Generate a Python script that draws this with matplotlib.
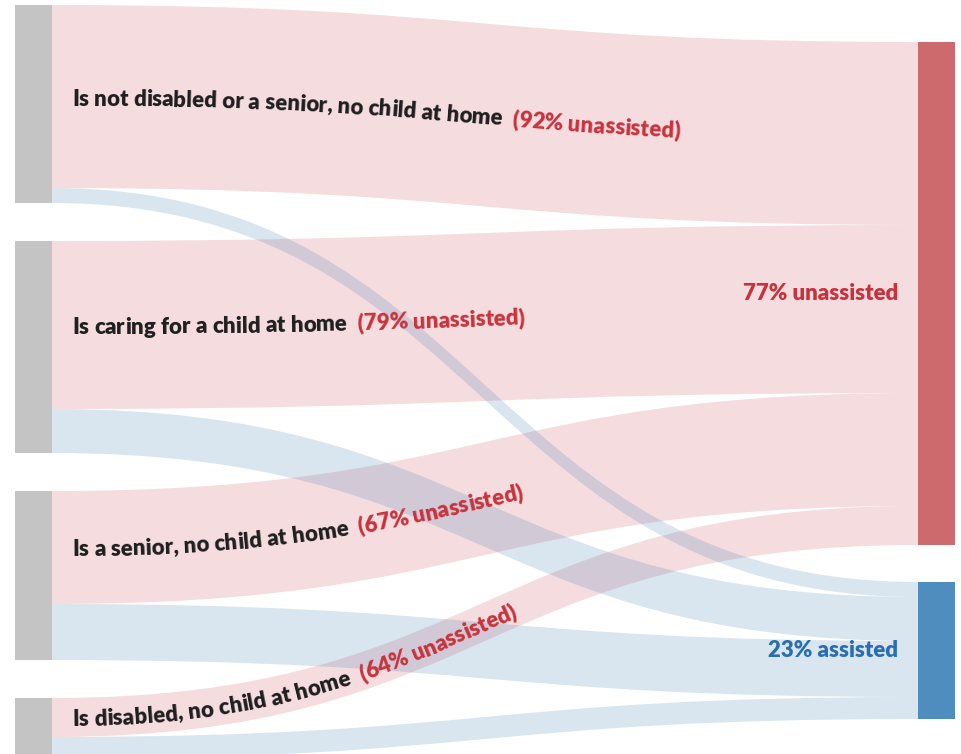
import numpy as np
import matplotlib
matplotlib.use("Agg")
import matplotlib.pyplot as plt
from matplotlib.patches import Rectangle, PathPatch
from matplotlib.path import Path
from matplotlib import font_manager
from matplotlib.font_manager import FontProperties, findfont, get_font

# ---------------- data ----------------
categories = ["Is not disabled or a senior, no child at home",
              "Is caring for a child at home",
              "Is a senior, no child at home",
              "Is disabled, no child at home"]
category_pct = ["(92% unassisted)", "(79% unassisted)",
                "(67% unassisted)", "(64% unassisted)"]
unassisted = [183, 168, 113, 39]
assisted = [15, 44, 56, 22]
outcome_labels = ["77% unassisted", "23% assisted"]

# ---------------- style ----------------
W, H = 961, 754
GRAY = "#c4c4c4"
RED_NODE = "#cd6a6e"
BLUE_NODE = "#4f8dbf"
RED_FLOW = "#d0616a"
BLUE_FLOW = "#4f86b8"
FLOW_ALPHA = 0.21
TXT_DARK = "#1e1e1e"
TXT_RED = "#c8323c"
TXT_BLUE = "#2a6eb0"

names = {f.name for f in font_manager.fontManager.ttflist}
FONT = "DejaVu Sans"
for cand in ["Lato", "Open Sans", "Noto Sans", "DejaVu Sans"]:
    if cand in names:
        FONT = cand
        break
WEIGHT = "heavy"

LX0, LX1 = 15, 52      # left node x-extent
RX0, RX1 = 918, 955    # right node x-extent
LTOP, LGAP = 5, 38
RTOP, RGAP = 42, 37

fig = plt.figure(figsize=(W / 100, H / 100), dpi=100)
ax = fig.add_axes([0, 0, 1, 1])
ax.set_xlim(0, W)
ax.set_ylim(H, 0)
ax.axis("off")

# ---------------- node positions ----------------
left_tops = []
y = LTOP
for u, a in zip(unassisted, assisted):
    left_tops.append(y)
    y += u + a + LGAP
red_top = RTOP
red_h = sum(unassisted)
blue_top = red_top + red_h + RGAP
blue_h = sum(assisted)


def ribbon(x0, y0a, y0b, x1, y1a, y1b):
    xm = (x0 + x1) / 2
    verts = [(x0, y0a), (xm, y0a), (xm, y1a), (x1, y1a),
             (x1, y1b), (xm, y1b), (xm, y0b), (x0, y0b), (x0, y0a)]
    codes = [Path.MOVETO, Path.CURVE4, Path.CURVE4, Path.CURVE4,
             Path.LINETO, Path.CURVE4, Path.CURVE4, Path.CURVE4, Path.CLOSEPOLY]
    return Path(verts, codes)


# ---------------- flows ----------------
ry = red_top
by_ = blue_top
centerlines = []
for i, (u, a) in enumerate(zip(unassisted, assisted)):
    t0 = left_tops[i]
    p = ribbon(LX1, t0, t0 + u, RX0, ry, ry + u)
    ax.add_patch(PathPatch(p, facecolor=RED_FLOW, edgecolor="none",
                           alpha=FLOW_ALPHA, zorder=1))
    centerlines.append((t0 + u / 2, ry + u / 2))
    ry += u
for i, (u, a) in enumerate(zip(unassisted, assisted)):
    t0 = left_tops[i] + u
    p = ribbon(LX1, t0, t0 + a, RX0, by_, by_ + a)
    ax.add_patch(PathPatch(p, facecolor=BLUE_FLOW, edgecolor="none",
                           alpha=FLOW_ALPHA, zorder=1))
    by_ += a

# ---------------- nodes ----------------
for i, (u, a) in enumerate(zip(unassisted, assisted)):
    ax.add_patch(Rectangle((LX0, left_tops[i]), LX1 - LX0, u + a,
                           facecolor=GRAY, edgecolor="none", zorder=3))
ax.add_patch(Rectangle((RX0, red_top), RX1 - RX0, red_h,
                       facecolor=RED_NODE, edgecolor="none", zorder=3))
ax.add_patch(Rectangle((RX0, blue_top), RX1 - RX0, blue_h,
                       facecolor=BLUE_NODE, edgecolor="none", zorder=3))

# ---------------- text along curves ----------------
fp10 = FontProperties(family=FONT, weight=WEIGHT, size=10)
ft = get_font(findfont(fp10))


def advances(s, size):
    ft.set_size(size, 100)
    return np.array([ft.load_char(ord(c)).linearHoriAdvance / 65536.0 for c in s])


TARGET_W = 430.0
FS = 10 * TARGET_W / advances(categories[0], 10).sum()
fp = FontProperties(family=FONT, weight=WEIGHT, size=FS)

LABEL_X = 72
GAP_PX = 10
OFF = 9


def curve_text(y0, y1, parts):
    t = np.linspace(0, 1, 4000)
    x0, x1 = LX1, RX0
    xm = (x0 + x1) / 2
    bx = (1 - t) ** 3 * x0 + 3 * (1 - t) ** 2 * t * xm + 3 * (1 - t) * t ** 2 * xm + t ** 3 * x1
    byy = (1 - t) ** 3 * y0 + 3 * (1 - t) ** 2 * t * y0 + 3 * (1 - t) * t ** 2 * y1 + t ** 3 * y1
    s = np.concatenate([[0], np.cumsum(np.hypot(np.diff(bx), np.diff(byy)))])
    dx = np.gradient(bx)
    dy = np.gradient(byy)
    pos = np.interp(LABEL_X, bx, s)
    for text, color, gap in parts:
        pos += gap
        adv = advances(text, FS)
        for c, a in zip(text, adv):
            sc = pos + a / 2
            px = np.interp(sc, s, bx)
            py = np.interp(sc, s, byy)
            tx = np.interp(sc, s, dx)
            ty = np.interp(sc, s, dy)
            n = np.hypot(tx, ty)
            tx, ty = tx / n, ty / n
            ang = np.degrees(np.arctan2(-ty, tx))
            if c != " ":
                ax.text(px - ty * OFF, py + tx * OFF, c, fontproperties=fp,
                        color=color, ha="center", va="baseline",
                        rotation=ang, rotation_mode="anchor", zorder=5)
            pos += a


for i in range(len(categories)):
    y0, y1 = centerlines[i]
    curve_text(y0, y1, [(categories[i], TXT_DARK, 0),
                        (category_pct[i], TXT_RED, GAP_PX)])

# ---------------- right labels ----------------
ax.text(RX0 - 20, red_top + red_h / 2, outcome_labels[0], fontproperties=fp,
        color=TXT_RED, ha="right", va="center", zorder=5)
ax.text(RX0 - 20, blue_top + blue_h / 2, outcome_labels[1], fontproperties=fp,
        color=TXT_BLUE, ha="right", va="center", zorder=5)

fig.savefig("out.png", dpi=100)
